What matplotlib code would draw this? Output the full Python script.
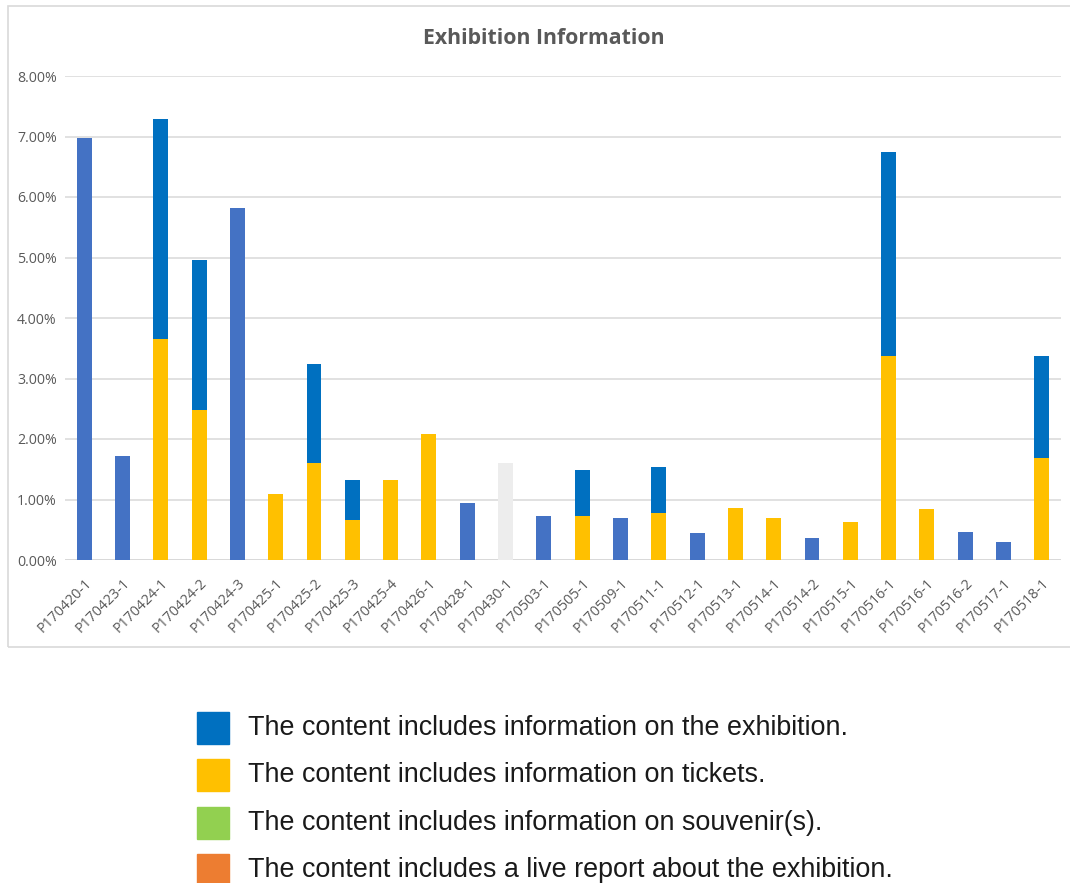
import matplotlib
matplotlib.use("Agg")
import matplotlib.pyplot as plt
from matplotlib.patches import Rectangle
from matplotlib.ticker import PercentFormatter, MultipleLocator
import numpy as np

plt.rcParams['font.family'] = ['Open Sans', 'DejaVu Sans']

# share of posts (%) per exhibition item
labels = ["P170420-1", "P170423-1", "P170424-1", "P170424-2", "P170424-3",
          "P170425-1", "P170425-2", "P170425-3", "P170425-4", "P170426-1",
          "P170428-1", "P170430-1", "P170503-1", "P170505-1", "P170509-1",
          "P170511-1", "P170512-1", "P170513-1", "P170514-1", "P170514-2",
          "P170515-1", "P170516-1", "P170516-1", "P170516-2", "P170517-1",
          "P170518-1"]

tickets = [0, 0, 3.65, 2.48, 0, 1.09, 1.61, 0.66, 1.32, 2.09,
           0, 0, 0, 0.73, 0, 0.77, 0, 0.86, 0.69, 0,
           0.63, 3.37, 0.85, 0, 0, 1.69]
exhibition = [0, 0, 3.64, 2.48, 0, 0, 1.63, 0.66, 0, 0,
              0, 0, 0, 0.75, 0, 0.76, 0, 0, 0, 0,
              0, 3.38, 0, 0, 0, 1.68]
single = [6.98, 1.72, 0, 0, 5.82, 0, 0, 0, 0, 0,
          0.94, 0, 0.73, 0, 0.69, 0, 0.44, 0, 0, 0.36,
          0, 0, 0, 0.47, 0.30, 0]
other = [0, 0, 0, 0, 0, 0, 0, 0, 0, 0,
         0, 1.61, 0, 0, 0, 0, 0, 0, 0, 0,
         0, 0, 0, 0, 0, 0]

legend_labels = [
    "The content includes information on the exhibition.",
    "The content includes information on tickets.",
    "The content includes information on souvenir(s).",
    "The content includes a live report about the exhibition.",
]
legend_colors = ["#0070C0", "#FFC000", "#92D050", "#ED7D31"]

W, H = 1070, 883
fig = plt.figure(figsize=(W / 100, H / 100), dpi=100)


def fx(px):
    return px / W


def fy(py):
    return 1 - py / H


# chart frame
fig.add_artist(Rectangle((fx(8), fy(647)), fx(1075) - fx(8), fy(6) - fy(647),
                         transform=fig.transFigure, fill=False,
                         edgecolor="#D9D9D9", linewidth=1.2))

ax = fig.add_axes([fx(65), fy(560), fx(1061) - fx(65), fy(76) - fy(560)])
x = np.arange(len(labels))
bw = 0.39
ax.bar(x, single, bw, color="#4472C4", zorder=3)
ax.bar(x, other, bw, color="#EDEDED", zorder=3)
ax.bar(x, tickets, bw, color="#FFC000", zorder=3)
ax.bar(x, exhibition, bw, bottom=tickets, color="#0070C0", zorder=3)

ax.set_xlim(-0.5, len(labels) - 0.5)
ax.set_ylim(0, 8)
ax.yaxis.set_major_locator(MultipleLocator(1))
ax.yaxis.set_major_formatter(PercentFormatter(xmax=100, decimals=2))
ax.grid(axis="y", color="#D9D9D9", linewidth=1.1, zorder=0)
ax.set_axisbelow(True)
for s in ax.spines.values():
    s.set_visible(False)
ax.axhline(0, color="#D9D9D9", linewidth=1.4, zorder=2)

ax.set_xticks(x)
ax.set_xticklabels(labels, rotation=45, ha="right", rotation_mode="anchor",
                   fontsize=10.3, color="#595959")
ax.tick_params(axis="x", length=0, pad=11)
ax.tick_params(axis="y", length=0, pad=6, labelsize=10.2, labelcolor="#595959")

fig.text(fx(544), fy(39), "Exhibition Information", ha="center", va="center",
         fontsize=15.3, fontweight="bold", color="#595959")

# legend below the chart
for i, (lab, col) in enumerate(zip(legend_labels, legend_colors)):
    yc = 728 + i * 47.3
    fig.add_artist(Rectangle((fx(197), fy(yc + 16)), fx(32), 32 / H,
                             transform=fig.transFigure, color=col))
    fig.text(fx(248), fy(yc), lab, ha="left", va="center", fontsize=19.4,
             color="#1A1A1A", family=["Liberation Sans", "DejaVu Sans"])

fig.savefig("out.png", dpi=100)
